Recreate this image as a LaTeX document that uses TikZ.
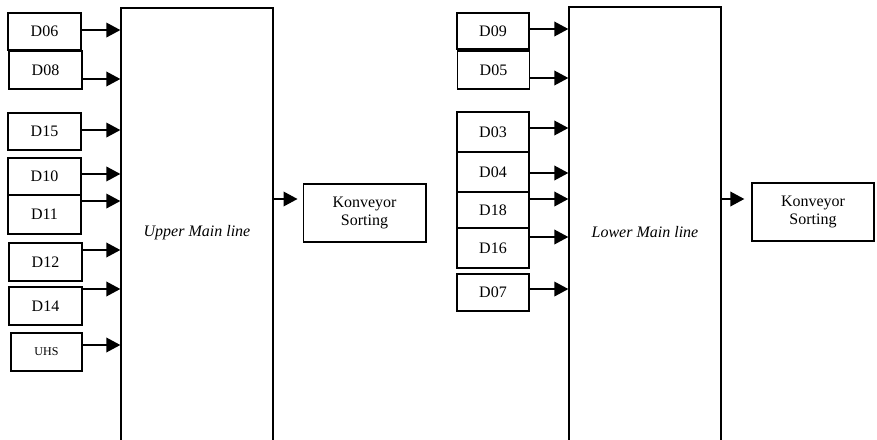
\documentclass[tikz,border=0pt]{standalone}
\usepackage{fontspec}
\setmainfont{Liberation Serif}
\usetikzlibrary{positioning, arrows.meta}

\tikzset{
  src/.style={draw, line width=1.2pt, inner sep=0pt, minimum width=54.75pt, minimum height=28pt, font=\fontsize{12}{14}\selectfont},
  mainline/.style={draw, line width=1pt, minimum width=114pt, minimum height=337.5pt, font=\fontsize{12}{14}\selectfont\itshape},
  sorter/.style={draw, line width=1pt, align=center, minimum width=92pt, minimum height=43.5pt, font=\fontsize{12}{14}\selectfont},
  feed/.style={-{Triangle[length=10.5pt,width=11pt]}, line width=1.1pt}
}

\begin{document}
\begin{tikzpicture}[x=0.75pt, y=-0.75pt]
  \useasboundingbox (0,0) rectangle (877,439);
  \clip (0,0) rectangle (877,439);

  % upper main line
  \node[mainline] (upper) at (197,233) {Upper Main line};
  \node[sorter] (ks1) at (364.5,213) {Konveyor\\Sorting};

  \node[src] (d06) at (44.5,31.5) {D06};
  \node[src, minimum height=28.5pt] (d08) at (45.5,70) {D08};
  \node[src] (d15) at (44.5,131.5) {D15};
  \node[src] (d10) at (44.5,176.5) {D10};
  \node[src, minimum height=29.25pt] (d11) at (44.5,214.5) {D11};
  \node[src, minimum height=28.5pt] (d12) at (45.5,262) {D12};
  \node[src, minimum height=28.5pt] (d14) at (45.5,306) {D14};
  \node[src, minimum width=53.25pt, minimum height=28.5pt, font=\fontsize{9}{11}\selectfont] (uhs) at (46.5,352) {UHS};

  \foreach \s/\dy in {d06/1.1, d08/-6.75, d15/1.1, d10/1.9, d11/10.1, d12/9, d14/12.75, uhs/5.25}
    \draw[feed] ([yshift=\dy pt]\s.east) coordinate (tip) -- (tip -| upper.west);

  \path ([yshift=10.5pt]ks1.west) coordinate (in1);
  \draw[feed] (in1 -| upper.east) -- ([xshift=-3.75pt]in1);

  % lower main line
  \node[mainline] (lower) at (645,232) {Lower Main line};
  \node[sorter, minimum width=91.5pt] (ks2) at (813,212) {Konveyor\\Sorting};

  \node[src, minimum width=54pt, minimum height=27pt] (d09) at (493,31) {D09};
  \node[src, minimum width=54pt, minimum height=28.5pt] (d05) at (493.5,70) {D05};
  \node[src, minimum width=54pt, minimum height=30pt] (d03) at (493,132) {D03};
  \node[src, minimum width=54pt, minimum height=30pt] (d04) at (493,172) {D04};
  \node[src, minimum width=54pt, minimum height=27pt] (d18) at (493,210) {D18};
  \node[src, minimum width=54pt, minimum height=30pt] (d16) at (493,248) {D16};
  \node[src, minimum width=54pt] (d07) at (493,292.5) {D07};

  \foreach \s/\dy in {d09/1.5, d05/-6, d03/3, d04/-0.75, d18/8.25, d16/8.25, d07/2.6}
    \draw[feed] ([yshift=\dy pt]\s.east) coordinate (tip) -- (tip -| lower.west);

  \path ([yshift=9.75pt]ks2.west) coordinate (in2);
  \draw[feed] (in2 -| lower.east) -- ([xshift=-5.25pt]in2);
\end{tikzpicture}
\end{document}
